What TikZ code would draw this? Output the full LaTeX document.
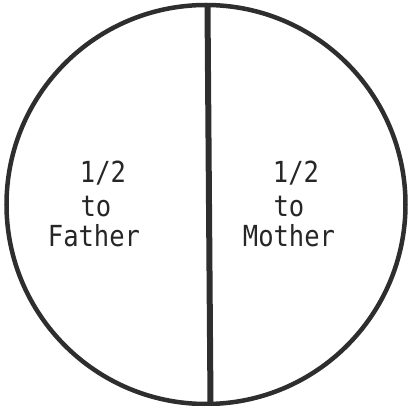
\documentclass[tikz,border=0pt]{standalone}
\usepackage{fontspec}
\newfontfamily\typed[FakeStretch=0.88]{DejaVu Sans Mono}
\begin{document}
\begin{tikzpicture}[x=1pt,y=-1pt,
  ink/.style={draw=black!82},
  lbl/.style={anchor=base,inner sep=0pt,font=\typed\fontsize{29}{29}\selectfont,text=black!85}]
\useasboundingbox (0,0) rectangle (408,406);
\draw[ink,line width=4.5pt] (206,204.5) circle[radius=199.5];
\coordinate (top) at (207.5,5);
\coordinate (bot) at (210.5,404);
\draw[ink,line width=6pt] (top) -- (bot);
\node[lbl] (lhalf) at (103,183) {1/2};
\node[lbl] (lto) at (96,217) {to};
\node[lbl] (father) at (94,247) {Father};
\node[lbl] (rhalf) at (296,183) {1/2};
\node[lbl] (rto) at (289,217) {to};
\node[lbl] (mother) at (289,247) {Mother};
\end{tikzpicture}
\end{document}
